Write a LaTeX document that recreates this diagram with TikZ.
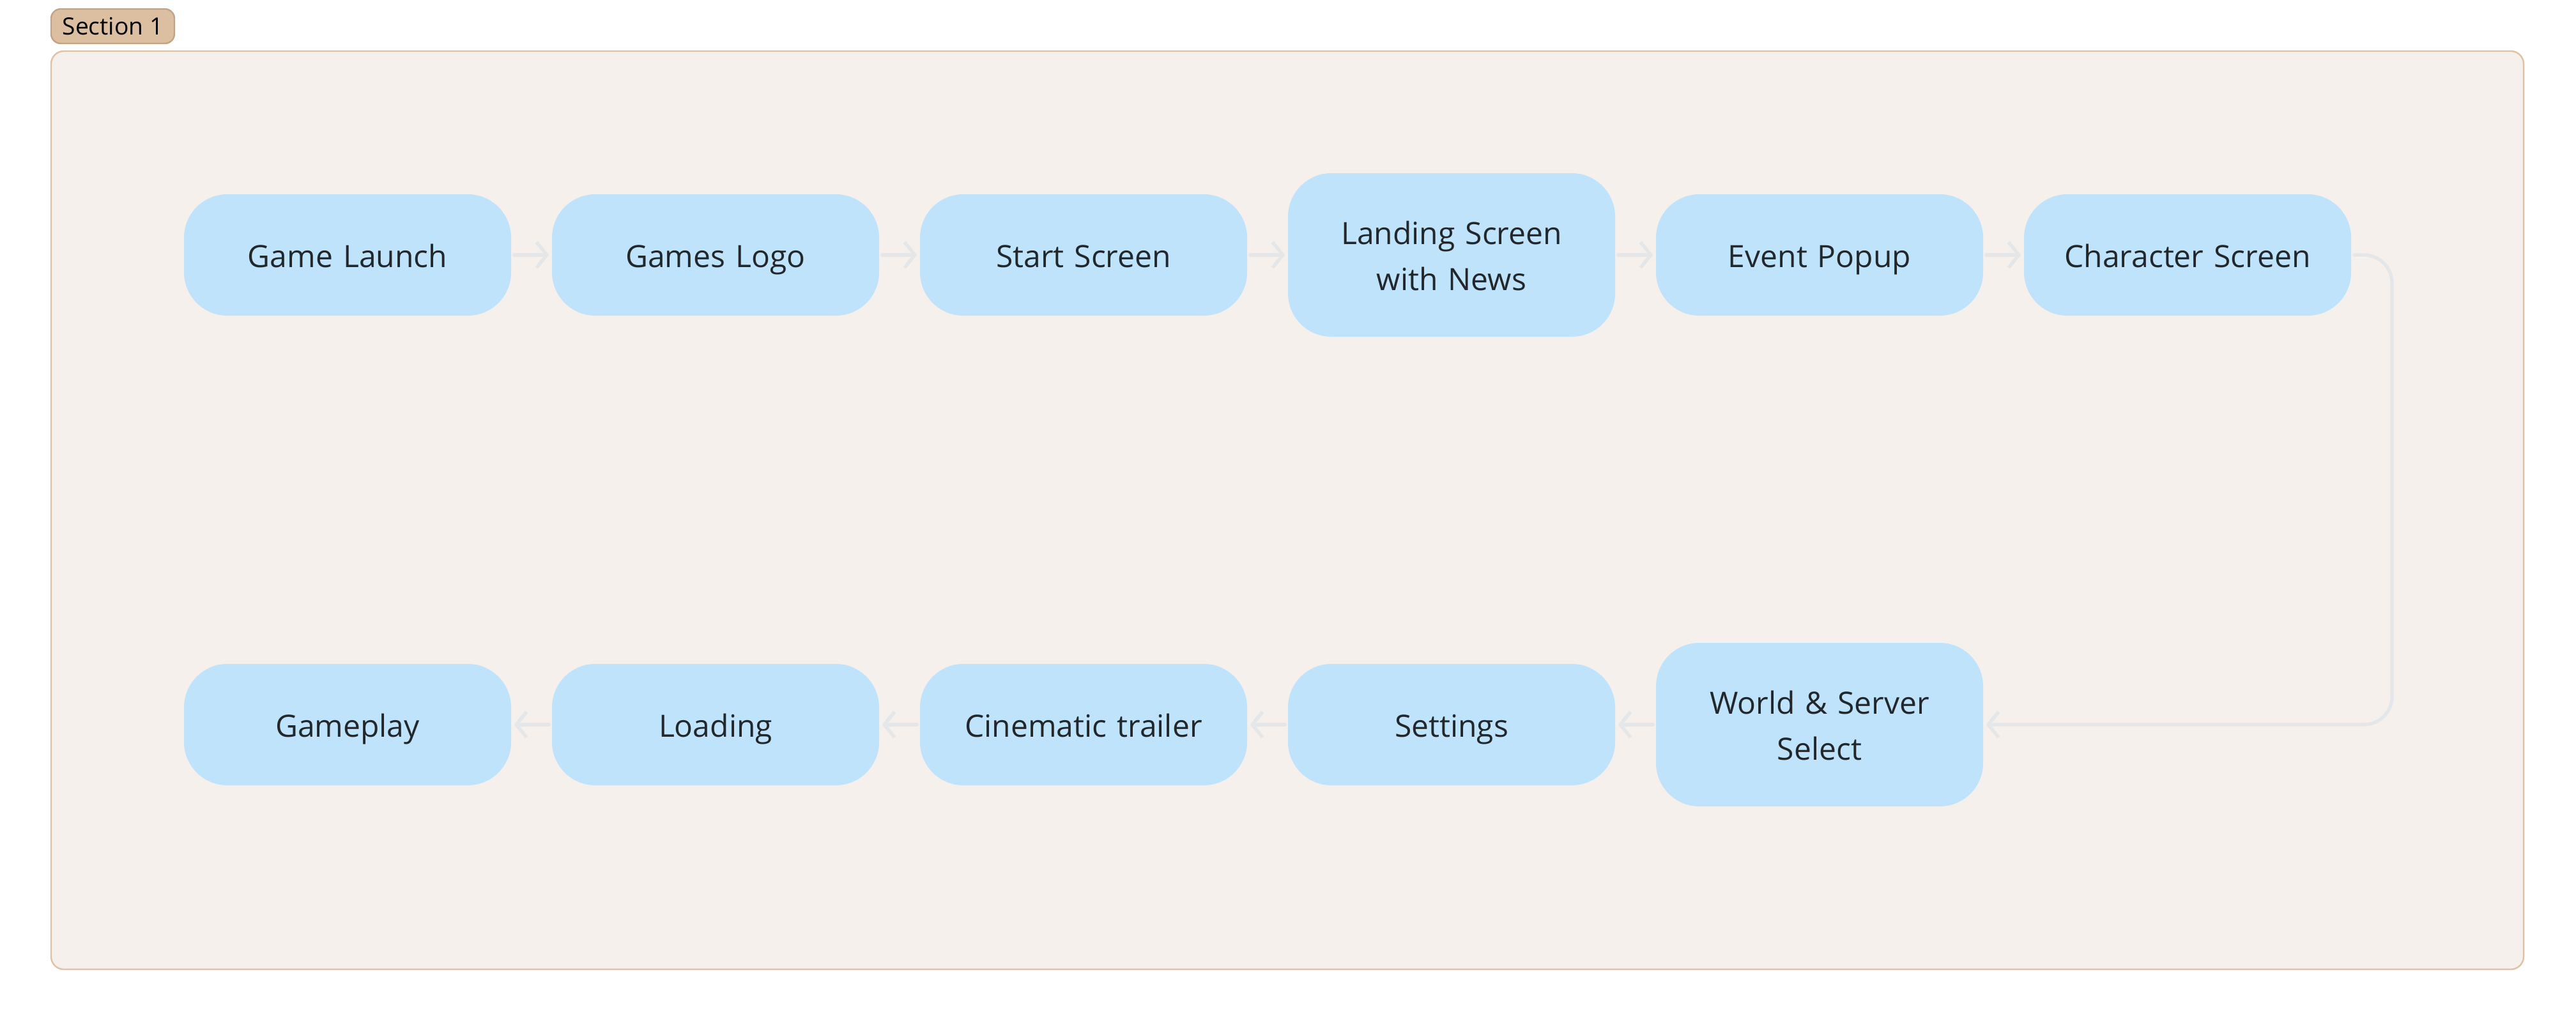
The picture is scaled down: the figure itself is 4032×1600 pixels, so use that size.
\documentclass[tikz,border=0pt]{standalone}
\usepackage{fontspec}
\setmainfont{Open Sans}
\usetikzlibrary{arrows.meta}
\definecolor{nodefill}{HTML}{BEE3FB}
\definecolor{txt}{HTML}{22272C}
\definecolor{framefill}{HTML}{F5F0EC}
\definecolor{framedraw}{HTML}{DFC2A3}
\definecolor{labfill}{HTML}{DBBFA0}
\definecolor{labdraw}{HTML}{C2A485}
\definecolor{conn}{HTML}{E4E6E8}
\newcommand{\mystrut}{\rule[-4.15pt]{0pt}{18pt}}
\tikzset{
  stepbox/.style={fill=nodefill, draw=none, rounded corners=17pt, minimum width=128pt,
    minimum height=47.5pt, text width=120pt, align=center, text=txt,
    font=\fontsize{12pt}{18pt}\selectfont, inner sep=0pt,
    execute at begin node={\mystrut}, execute at end node={\mystrut}},
  tallbox/.style={stepbox, minimum height=64pt},
  flow/.style={draw=conn, line width=1.3pt, line cap=round,
    -{Straight Barb[length=4pt,width=10pt,line width=1.3pt]}, shorten <=1pt, shorten >=1pt},
}
\begin{document}
\begin{tikzpicture}[x=0.25pt,y=-0.25pt]
\useasboundingbox (0,0) rectangle (4032,1600);
\fill[white] (0,0) rectangle (4032,1600);
% frame
\draw[fill=framefill, draw=framedraw, line width=0.6pt, rounded corners=5pt] (80,80) rectangle (3950,1517);
% section label
\node[fill=labfill, draw=labdraw, line width=0.6pt, rounded corners=3.75pt, minimum width=48.25pt,
  minimum height=13.5pt, inner sep=0pt, font=\fontsize{9.3pt}{10pt}\selectfont] (sec) at (176.5,41) {Section 1};
% row 1
\node[stepbox] (n1) at (544,399) {Game Launch};
\node[stepbox] (n2) at (1120,399) {Games Logo};
\node[stepbox] (n3) at (1696,399) {Start Screen};
\node[tallbox] (n4) at (2272,399) {Landing Screen\\with News};
\node[stepbox] (n5) at (2848,399) {Event Popup};
\node[stepbox] (n6) at (3424,399) {Character Screen};
% row 2
\node[tallbox] (m1) at (2848,1134) {World \& Server\\Select};
\node[stepbox] (m2) at (2272,1134) {Settings};
\node[stepbox] (m3) at (1696,1134) {Cinematic trailer};
\node[stepbox] (m4) at (1120,1134) {Loading};
\node[stepbox] (m5) at (544,1134) {Gameplay};
\coordinate (c1) at (3744,399);
\coordinate (c2) at (3744,1134);
% connectors
\draw[flow] (n1.east) -- (n2.west);
\draw[flow] (n2.east) -- (n3.west);
\draw[flow] (n3.east) -- (n4.west);
\draw[flow] (n4.east) -- (n5.west);
\draw[flow] (n5.east) -- (n6.west);
\draw[flow, rounded corners=11pt] (n6.east) -- (c1) -- (c2) -- (m1.east);
\draw[flow] (m1.west) -- (m2.east);
\draw[flow] (m2.west) -- (m3.east);
\draw[flow] (m3.west) -- (m4.east);
\draw[flow] (m4.west) -- (m5.east);
\end{tikzpicture}
\end{document}
